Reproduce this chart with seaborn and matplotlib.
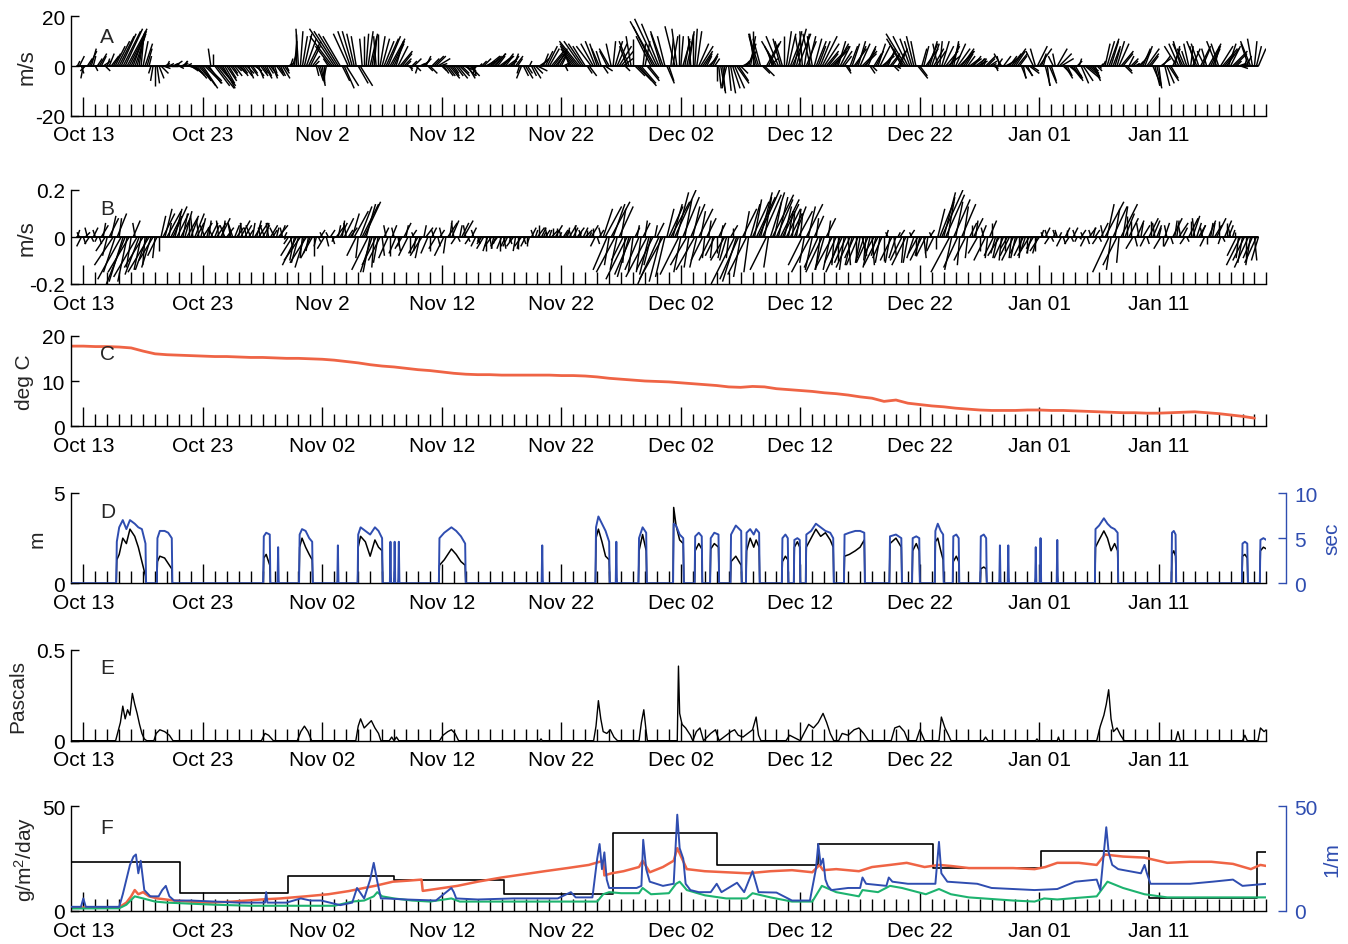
import numpy as np
import matplotlib
matplotlib.use('Agg')
import matplotlib.pyplot as plt
import seaborn as sns
from matplotlib.collections import LineCollection

sns.set_theme(style='white')
plt.rcParams['font.family'] = ['Liberation Sans', 'DejaVu Sans']
plt.rcParams['mathtext.fontset'] = 'custom'
plt.rcParams['mathtext.rm'] = 'Liberation Sans'
plt.rcParams['mathtext.it'] = 'Liberation Sans:italic'

# ---------------- DATA ----------------
# time axis: days since Oct 12 00:00 (Oct 13 = 1)
major_days = [1, 11, 21, 31, 41, 51, 61, 71, 81, 91]
labels_ab = ['Oct 13', 'Oct 23', 'Nov 2', 'Nov 12', 'Nov 22', 'Dec 02', 'Dec 12', 'Dec 22', 'Jan 01', 'Jan 11']
labels_cf = ['Oct 13', 'Oct 23', 'Nov 02', 'Nov 12', 'Nov 22', 'Dec 02', 'Dec 12', 'Dec 22', 'Jan 01', 'Jan 11']

# Panel A: wind (m/s), 6 samples per day starting at day 0.5 (one group of 6 = one day)
wind_u = [
 1,2,1,-1,-2,2, 3,2,1,1,2,3, 2,3,2,1,2,3, 3,4,5,6,6,7, 7,8,7,6,5,4,
 3,2,1,2,3,2, 1,-1,-1,0,1,2, 3,3,2,1,2,3, 2,3,1,2,3,2, 1,2,3,3,4,4,
 4,5,6,6,7,6, 5,-1,0,6,7,6, 6,5,4,4,3,3, 2,3,2,3,3,2, 3,3,2,3,2,3,
 3,2,3,2,3,2, 2,3,2,1,3,2, 2,3,2,1,2,1, 2,1,0,-1,1,2, 3,4,5,4,3,2,
 1,2,2,1,0,-1, -2,-6,-9,-10,-9,-8, -7,3,4,5,-6,-5, -4,-3,-2,4,5,-1, 0,1,2,3,2,1,
 -1,0,2,3,4,5, 5,6,5,4,3,4, 5,4,3,2,2,1, 2,3,2,-1,2,3, 3,2,2,3,3,4,
 4,5,3,2,2,3, 3,4,3,2,3,4, 4,3,5,4,3,4, 2,1,-1,-2,1,2, 3,4,5,4,4,5,
 4,3,4,5,4,3, 4,3,3,2,3,2, -1,-2,2,3,2,1, 2,3,3,4,3,3, 2,3,4,4,5,4,
 5,4,3,2,2,1, 1,-1,-3,-5,-6,-7, -8,-7,-6,-5,2,3, -6,-5,-4,-3,-3,-2, 2,3,-3,-4,-2,1,
 3,4,5,5,4,2, -3,-4,-2,0,4,6, 7,6,1,2,5,4, -6,-8,-10,-9,-7,-4, -5,-3,3,2,1,2,
 -4,-2,0,1,3,2, 3,2,-1,0,1,2, 4,5,4,3,2,3, 3,2,2,0,1,2, 1,-1,-2,1,2,3,
 4,5,4,3,2,2, 4,3,2,0,-2,-3, -4,-3,3,4,5,5, 3,-2,-4,-6,-5,-3, -3,0,2,3,4,4,
 3,4,5,-2,-1,2, 4,3,-3,-2,3,4, 3,4,6,6,5,4, 5,6,6,5,3,4, 4,3,2,1,3,3,
 5,4,3,4,6,5, 4,3,2,2,3,3, 3,4,5,4,4,3, 4,3,2,2,3,3, -5,-7,-8,-6,-4,-3,
 -3,-2,4,3,2,2, 5,4,3,3,4,4, -2,1,3,4,5,5, 4,3,2,4,5,6, 5,4,3,3,4,4,
 3,4,4,2,2,1, 4,3,3,2,2,1, 2,-1,-3,3,4,4, 3,4,5,4,4,3, 2,1,3,2,4,3,
 -3,-2,4,5,2,1, 2,1,3,2,-2,-1, 4,5,5,3,3,2, 5,4,4,3,2,1, 3,4,6,5,4,3,
 3,2,2,1,1,1, 2,3,4,3,3,2, 3,4,5,4,3,2, 2,3,2,2,1,2, 4,3,3,5,4,3,
 3,2,2,1,4,3, 2,3,4,3,3,2, -5,-4,-3,-4,-3,-2, -2,1,3,-2,-4,-3, 4,3,-3,-2,5,4,
 3,2,-4,-3,5,6, 4,5,3,4,6,5, 2,3,3,2,1,2, -3,-4,-2,1,2,3]
wind_v = [
 2,4,-3,-5,-2,3, 6,7,4,-2,3,5, 4,2,-2,3,5,4, 5,8,10,12,13,14, 15,15,14,13,14,12,
 12,13,11,10,9,7, 4,-3,-6,-8,-7,-5, -3,-1,1,2,1,0, 1,2,1,-1,1,2, 2,1,-1,-2,-3,-4,
 -5,-6,-8,-9,-7,-6, -7,7,5,-8,-9,-7, -8,-9,-7,-6,-5,-4, -3,-4,-2,-3,-4,-3, -4,-3,-5,-4,-3,-2,
 -4,-5,-4,-3,-5,-4, -3,-4,-5,-3,-4,-3, -4,-5,-3,-2,1,3, 6,10,13,15,14,12, 13,11,10,8,4,2,
 -4,-6,-8,-7,-6,-5, 3,8,12,15,14,13, 12,-6,-9,-8,13,14, 14,13,12,-7,-8,11, 12,13,14,13,12,11,
 12,13,12,11,10,11, 12,11,10,9,10,8, 6,5,3,2,-1,-2, 2,3,-2,-3,1,2, 3,4,-2,-3,3,4,
 4,3,1,-2,-3,-4, -4,-5,-4,-3,-4,-5, -4,-3,-2,-4,-5,-4, -3,-4,-3,-1,1,2, 3,2,4,3,4,5,
 5,4,3,4,5,4, 3,2,4,5,4,3, -3,-5,-4,-5,-3,2, -4,-5,-3,-2,2,3, 5,6,8,7,6,5,
 6,7,5,4,1,-2, 1,3,5,7,8,9, 10,10,9,8,-3,-4, 8,9,10,9,7,6, -3,-2,6,7,9,10,
 10,9,8,6,3,-2, 8,10,12,11,-4,-6, -8,-7,9,10,-6,-5, 12,16,18,19,17,13, 14,12,-7,-6,11,12,
 16,15,13,12,10,11, 14,13,12,13,15,14, 9,8,6,5,4,3, 5,4,3,-6,-9,-11, -10,-9,-8,-10,-11,-9,
 -9,-7,-6,-3,1,2, 6,9,12,14,13,12, 13,11,-3,-4,9,10, 3,6,8,10,12,11, 10,12,14,13,10,9,
 14,15,13,12,14,13, 10,12,13,12,11,10, 8,10,12,9,6,5, 5,6,8,9,10,8, 6,4,-3,-2,8,9,
 7,8,10,9,6,5, 8,7,-3,-2,5,6, 9,8,4,5,6,7, 5,4,-2,-1,6,7, 9,11,13,12,11,10,
 12,10,-5,-4,7,8, 7,9,10,9,7,6, 9,10,10,8,6,4, 8,9,10,9,7,6, 7,6,5,4,3,3,
 4,3,2,3,3,2, 4,3,2,1,-1,-2, 3,4,5,4,2,3, 4,5,7,6,5,4, -5,-5,-4,-4,-3,-2,
 6,7,8,7,5,4, -8,-8,-7,-6,4,5, 7,5,3,-3,-5,-4, -4,-5,-6,-5,2,3, -7,-6,-5,-4,-3,-2,
 -6,-5,-2,-1,1,2, 9,10,11,10,8,7, 10,9,6,5,-3,-2, 4,3,2,1,1,2, 6,7,8,7,5,4,
 -7,-8,-9,-8,3,4, -8,-7,-6,-5,7,8, 8,9,10,9,7,6, 9,8,7,8,10,9, 8,7,6,7,9,8,
 7,8,10,9,8,7, 5,7,9,8,6,5, 2,1,-1,1,3,4, 9,10,11,10,8,7]

# Panel B: current (cm/s), 6 samples per day starting at day 0.5
cur_u = [
 1,-1,-2,1,2,-1, -2,1,2,-1,-1,1, 3,1,-4,-2,4,2, -8,-5,4,1,-10,-6, -8,-4,-9,-2,3,-1,
 -10,-6,-3,-8,-1,-5, -9,-4,-6,-1,-4,0, 2,5,3,6,1,4, 6,3,5,1,4,2, 3,5,0,3,-1,4,
 3,-1,2,4,-2,1, 1,3,-2,2,4,-1, 4,1,-2,3,1,-1, -2,2,3,1,4,-1, 3,-1,2,-2,1,3,
 2,4,-1,3,-2,1, -1,3,2,-2,1,4, 2,-1,1,-1,-2,1, -5,-2,-6,-3,-7,-1, -4,-7,-1,-3,-5,0,
 -1,1,2,-1,-3,1, -1,2,1,-1,3,1, 3,1,4,-1,2,3, 3,6,-4,-1,5,7, 7,4,-7,-3,-5,-1,
 -6,-2,-5,1,2,-1, -4,0,2,-1,-3,1, -1,-3,3,1,-4,0, 2,-1,-1,-4,-2,-5, 1,3,-3,0,2,-1,
 -3,1,2,-1,-4,-1, 4,1,3,-1,-2,1, 1,3,4,-1,1,-2, 2,-1,-2,1,-1,-2, -3,0,-2,1,-3,-1,
 -1,-3,0,-2,1,-2, -2,1,-1,-3,-1,0, -1,-3,1,-2,0,-1, 2,-1,1,3,0,2, 1,2,-1,1,3,0,
 3,0,1,-1,2,1, 1,3,-1,2,0,3, 1,-1,2,3,0,1, 3,0,-2,1,2,-1, 4,7,-6,-2,8,5,
 -8,-3,6,2,-5,-1, -9,-5,-7,-2,2,1, -6,-2,3,1,-9,-4, -3,-7,1,3,-9,-5, -10,-4,3,6,8,4,
 9,5,-8,-3,7,3, -7,-2,6,3,-8,-3, 6,2,-5,-1,4,1, -5,-1,-4,0,3,1, -2,-6,-3,-1,3,0,
 -10,-6,-8,-3,6,2, -8,-2,4,7,3,8, 9,5,8,3,-7,-2, 6,9,3,7,4,8, 7,3,6,2,5,1,
 5,2,6,1,-6,-2, 7,3,-8,-3,4,1, -6,-2,-7,-4,4,1, -3,-7,-1,-5,0,-4, -7,-2,-5,1,-6,-3,
 -4,0,-5,-2,2,-3, -1,-5,-3,1,-4,-2, -6,-2,-4,0,1,-1, -2,-5,1,-3,1,2, -5,-1,-6,-2,2,-1,
 -3,0,-4,-2,-5,1, -4,-1,2,-1,-3,0, 3,6,9,5,8,3, -8,-3,7,3,-6,-1, 6,2,-5,-1,3,0,
 4,1,-4,0,2,-1, -5,-1,3,0,-4,-2, -2,-5,-1,-4,0,-3, -4,-1,-5,-2,-3,0, -1,-4,-2,0,-5,-2,
 -3,0,-2,-4,1,-1, 2,-1,-2,1,1,-1, -1,1,-2,1,2,0, -2,1,2,-1,-1,1, 2,-1,-2,1,3,-1,
 1,2,-2,1,3,-1, 8,3,-7,-2,6,2, -6,-1,7,2,4,0, 4,0,-3,1,3,-1, 1,3,-2,1,4,0,
 3,-1,2,1,-3,0, 2,-1,-2,1,4,1, 1,4,-1,2,-2,1, 4,0,3,-1,2,3, 2,-1,-2,0,3,1,
 1,3,4,0,-1,1, 3,0,2,-1,1,0, -4,-1,-6,-2,-5,0, -6,-2,-4,1,-5,-3]
cur_v = [
 3,2,-4,-3,2,4, -3,-2,4,3,-2,-3, 5,6,-6,-8,8,9, -12,-15,10,8,-18,-19, -20,-19,-15,-13,7,6,
 -17,-16,-14,-13,-12,-14, -15,-13,-10,-9,-8,-6, 9,10,12,11,6,8, 13,12,10,9,8,10, 11,9,7,8,9,10,
 6,7,8,6,5,4, 7,6,4,5,6,7, 8,7,5,4,3,5, 6,5,4,6,7,6, 5,4,3,5,6,5,
 7,6,4,5,5,6, 6,5,3,4,4,5, 5,4,2,-1,-3,-5, -8,-10,-12,-11,-10,-9, -13,-11,-6,-7,-9,-8,
 -4,-2,3,2,-5,-4, 2,3,-3,-2,4,5, 6,7,8,6,3,4, 10,11,-8,-9,13,14, 15,14,-14,-15,-15,-13,
 -12,-11,-10,-8,4,5, -9,-8,5,4,-7,-6, -4,-5,6,5,-8,-7, 3,2,-6,-7,-9,-8, 5,4,-7,-6,4,3,
 -5,-4,3,4,-8,-7, 6,7,7,6,-3,-2, 5,6,7,5,-2,-3, 4,3,-4,-3,-2,-3, -5,-6,-6,-5,-4,-5,
 -3,-4,-6,-5,-5,-4, -4,-3,-2,-4,-6,-5, -5,-4,-3,-4,-4,-3, 4,3,3,4,5,4, 2,3,4,3,3,4,
 5,4,2,3,3,2, 4,5,3,4,5,4, 2,3,4,3,3,2, 5,4,-4,-3,3,4, 12,13,-14,-12,15,14,
 -15,-14,13,12,-10,-11, -18,-17,-16,-15,4,5, -14,-15,6,7,-17,-16, -12,-14,5,6,-20,-19, -18,-17,12,13,15,14,
 20,19,-16,-15,17,16, -12,-13,14,13,-14,-13, 12,11,-10,-9,8,7, -10,-9,-8,-7,6,5, -9,-10,-10,-9,5,4,
 -20,-19,-18,-17,12,11, -16,-15,14,15,16,17, 20,19,18,17,-14,-13, 19,18,15,16,17,16, 14,13,12,11,10,11,
 13,12,11,10,-12,-11, 14,13,-15,-14,9,8, -13,-14,-15,-14,8,7, -14,-13,-12,-11,-10,-11, -15,-14,-11,-12,-13,-12,
 -9,-10,-12,-11,-8,-9, -10,-11,-13,-12,-7,-8, -12,-11,-9,-10,3,2, -11,-10,-8,-9,2,3, -10,-11,-12,-11,3,2,
 -9,-8,-7,-8,-10,-9, -8,-7,3,2,-6,-5, 12,15,20,19,18,17, -15,-14,16,15,-13,-12, 14,13,-10,-9,6,5,
 8,7,-7,-6,5,4, -10,-9,7,6,-8,-7, -9,-8,-10,-9,-6,-5, -8,-9,-10,-9,-7,-6, -9,-8,-6,-7,-8,-7,
 -5,-6,-7,-6,3,2, 4,3,-3,-2,2,3, 3,2,-4,-3,4,3, -3,-2,4,3,-2,-1, 3,2,-4,-3,4,3,
 4,3,-3,-2,6,5, 15,14,-15,-14,13,12, -12,-11,14,13,10,9, 8,7,-5,-4,7,6, 6,5,-4,-3,8,7,
 7,6,5,4,-5,-4, 6,5,-4,-3,8,7, 7,6,5,4,-3,-2, 8,7,9,8,6,5, 5,4,-4,-3,7,6,
 6,5,8,7,-3,-2, 7,6,5,4,3,2, -8,-9,-12,-11,-10,-9, -13,-12,-9,-10,-11,-10]

# Panel C: temperature (deg C), daily from day 0
temp_c = [17.7, 17.7, 17.6, 17.6, 17.5, 17.3, 16.6, 16.0, 15.8, 15.7,
          15.6, 15.5, 15.4, 15.4, 15.3, 15.2, 15.2, 15.1, 15.0, 15.0,
          14.9, 14.8, 14.6, 14.3, 14.0, 13.6, 13.3, 13.1, 12.8, 12.5,
          12.3, 12.0, 11.7, 11.5, 11.4, 11.4, 11.3, 11.3, 11.3, 11.3,
          11.3, 11.2, 11.2, 11.1, 10.9, 10.6, 10.4, 10.2, 10.0, 9.9,
          9.8, 9.6, 9.4, 9.2, 9.0, 8.7, 8.6, 8.8, 8.7, 8.3,
          8.1, 7.9, 7.7, 7.4, 7.2, 6.9, 6.5, 6.2, 5.5, 5.8,
          5.1, 4.8, 4.5, 4.3, 4.0, 3.8, 3.6, 3.5, 3.5, 3.5,
          3.6, 3.6, 3.5, 3.5, 3.4, 3.3, 3.2, 3.1, 3.0, 3.0,
          2.9, 2.9, 3.0, 3.1, 3.2, 3.0, 2.8, 2.5, 2.2, 1.8]

# Panel D: (day, wave height m, wave period sec)
wave = [
 (0, 0, 0),
 (3.75, 0, 0), (3.8, 1.3, 4.6), (4.0, 1.6, 6.2), (4.3, 2.5, 7.0), (4.6, 2.2, 6.0), (4.9, 3.0, 7.0),
 (5.3, 2.6, 6.6), (5.6, 2.0, 6.2), (5.9, 1.2, 6.0), (6.2, 0.4, 4.4), (6.25, 0, 0),
 (7.15, 0, 0), (7.2, 1.2, 5.0), (7.4, 1.5, 5.8), (7.8, 1.4, 5.8), (8.1, 1.1, 5.6), (8.4, 0.8, 5.0), (8.45, 0, 0),
 (16.05, 0, 0), (16.1, 1.4, 5.2), (16.3, 1.6, 5.6), (16.6, 1.0, 5.4), (16.65, 0, 0),
 (17.25, 0, 0), (17.3, 0.2, 4.0), (17.35, 0, 0),
 (19.05, 0, 0), (19.1, 2.0, 5.4), (19.3, 2.5, 6.0), (19.6, 2.0, 5.8), (19.9, 1.6, 5.0), (20.15, 1.3, 4.6), (20.2, 0, 0),
 (22.25, 0, 0), (22.3, 0.2, 4.2), (22.35, 0, 0),
 (23.95, 0, 0), (24.0, 2.0, 5.4), (24.2, 2.6, 6.2), (24.6, 2.3, 5.8), (25.0, 1.5, 5.4), (25.4, 2.4, 6.2),
 (25.7, 2.0, 5.8), (26.0, 1.8, 5.0), (26.05, 0, 0),
 (26.65, 0, 0), (26.7, 0.3, 4.6), (26.75, 0, 0), (27.0, 0, 0), (27.05, 0.3, 4.6), (27.1, 0, 0),
 (27.35, 0, 0), (27.4, 0.3, 4.6), (27.45, 0, 0),
 (30.75, 0, 0), (30.8, 1.0, 5.0), (31.2, 1.3, 5.6), (31.8, 1.9, 6.2), (32.2, 1.6, 5.8), (32.6, 1.2, 5.2),
 (32.95, 1.0, 4.4), (33.0, 0, 0),
 (39.35, 0, 0), (39.4, 0.2, 4.2), (39.45, 0, 0),
 (43.85, 0, 0), (43.9, 2.5, 6.2), (44.1, 3.0, 7.4), (44.4, 2.3, 6.6), (44.7, 1.5, 5.8), (45.0, 1.3, 4.6), (45.05, 0, 0),
 (45.55, 0, 0), (45.6, 0.3, 4.6), (45.65, 0, 0),
 (47.45, 0, 0), (47.5, 1.8, 5.0), (47.8, 2.7, 6.2), (48.1, 1.8, 5.6), (48.15, 0, 0),
 (50.35, 0, 0), (50.4, 4.2, 6.6), (50.6, 3.2, 6.4), (50.9, 2.4, 5.4), (51.2, 2.2, 5.0), (51.25, 0, 0),
 (52.15, 0, 0), (52.2, 1.8, 5.2), (52.5, 2.2, 5.6), (52.75, 1.9, 5.2), (52.8, 0, 0),
 (53.45, 0, 0), (53.5, 1.9, 5.0), (53.8, 2.2, 5.6), (54.15, 2.0, 5.4), (54.2, 0, 0),
 (55.15, 0, 0), (55.2, 1.2, 5.4), (55.6, 1.5, 6.4), (56.05, 1.0, 5.8), (56.1, 0, 0),
 (56.45, 0, 0), (56.5, 1.8, 5.6), (56.8, 2.5, 6.0), (57.1, 2.0, 5.4), (57.3, 2.4, 6.0), (57.55, 2.0, 5.6), (57.6, 0, 0),
 (59.45, 0, 0), (59.5, 1.2, 5.0), (59.75, 1.5, 5.4), (59.95, 1.3, 5.0), (60.0, 0, 0),
 (60.45, 0, 0), (60.5, 2.0, 4.8), (60.75, 2.3, 5.0), (60.95, 2.0, 4.8), (61.0, 0, 0),
 (61.45, 0, 0), (61.5, 2.0, 5.4), (61.9, 2.5, 5.8), (62.3, 3.0, 6.6), (62.7, 2.6, 6.2), (63.1, 2.8, 5.8),
 (63.5, 2.4, 5.6), (63.75, 2.0, 5.0), (63.8, 0, 0),
 (64.65, 0, 0), (64.7, 1.5, 5.4), (65.1, 1.6, 5.6), (65.6, 1.8, 5.8), (66.0, 2.0, 5.8), (66.35, 2.4, 5.6), (66.4, 0, 0),
 (68.45, 0, 0), (68.5, 2.2, 5.2), (69.0, 2.5, 5.4), (69.45, 2.0, 5.0), (69.5, 0, 0),
 (70.35, 0, 0), (70.4, 1.8, 5.0), (70.7, 2.2, 5.2), (70.95, 1.8, 5.0), (71.0, 0, 0),
 (72.25, 0, 0), (72.3, 2.3, 5.8), (72.5, 2.5, 6.6), (72.75, 1.8, 5.8), (72.95, 1.3, 5.4), (73.0, 0, 0),
 (73.75, 0, 0), (73.8, 1.2, 5.2), (74.05, 1.5, 5.4), (74.25, 1.2, 5.0), (74.3, 0, 0),
 (76.05, 0, 0), (76.1, 0.8, 5.2), (76.35, 0.9, 5.4), (76.55, 0.8, 5.0), (76.6, 0, 0),
 (77.65, 0, 0), (77.7, 0.3, 4.2), (77.75, 0, 0), (78.35, 0, 0), (78.4, 0.3, 4.2), (78.45, 0, 0),
 (80.65, 0, 0), (80.7, 0.3, 4.0), (80.75, 0, 0), (81.05, 0, 0), (81.1, 0.4, 5.0), (81.15, 0, 0),
 (82.45, 0, 0), (82.5, 0.4, 4.8), (82.55, 0, 0),
 (85.65, 0, 0), (85.7, 2.0, 6.0), (86.0, 2.4, 6.4), (86.4, 2.9, 7.2), (86.7, 2.5, 6.6), (87.0, 1.8, 6.2),
 (87.3, 2.2, 6.0), (87.55, 1.8, 5.6), (87.6, 0, 0),
 (92.05, 0, 0), (92.1, 1.6, 5.6), (92.25, 1.8, 5.8), (92.4, 1.5, 5.4), (92.45, 0, 0),
 (97.95, 0, 0), (98.0, 1.5, 4.4), (98.2, 1.6, 4.6), (98.4, 1.4, 4.4), (98.45, 0, 0),
 (99.45, 0, 0), (99.5, 1.8, 4.8), (99.75, 2.0, 5.0), (100.0, 1.9, 4.8)]

# Panel E: bottom stress (Pa)
stress = [
 (0, 0), (3.7, 0), (3.9, 0.05), (4.1, 0.10), (4.3, 0.19), (4.5, 0.12), (4.7, 0.17), (4.9, 0.14), (5.1, 0.26),
 (5.3, 0.20), (5.5, 0.15), (5.7, 0.09), (5.9, 0.04), (6.1, 0.01), (6.3, 0),
 (6.9, 0), (7.1, 0.04), (7.4, 0.06), (7.8, 0.05), (8.2, 0.03), (8.5, 0),
 (15.9, 0), (16.2, 0.04), (16.5, 0.03), (16.9, 0),
 (18.9, 0), (19.2, 0.05), (19.5, 0.08), (19.8, 0.05), (20.1, 0),
 (23.8, 0), (24.0, 0.08), (24.2, 0.12), (24.5, 0.07), (24.8, 0.09), (25.1, 0.11), (25.4, 0.07), (25.7, 0.04), (25.9, 0),
 (26.6, 0), (26.8, 0.02), (27.0, 0), (27.2, 0.02), (27.4, 0),
 (30.8, 0), (31.1, 0.03), (31.5, 0.05), (31.8, 0.06), (32.1, 0.04), (32.4, 0),
 (39.2, 0), (39.3, 0.01), (39.4, 0),
 (43.7, 0), (43.9, 0.08), (44.1, 0.22), (44.3, 0.12), (44.5, 0.05), (44.8, 0.04), (45.1, 0.06), (45.4, 0.02), (45.7, 0),
 (47.5, 0), (47.7, 0.10), (47.9, 0.17), (48.1, 0.05), (48.2, 0),
 (50.7, 0), (50.8, 0.41), (50.9, 0.15), (51.1, 0.09), (51.4, 0.07), (51.8, 0.03), (52.0, 0),
 (52.3, 0.05), (52.6, 0.07), (52.9, 0), (53.5, 0.04), (53.9, 0.06), (54.2, 0), (55.2, 0.05), (55.5, 0.06),
 (55.8, 0.03), (56.2, 0.02), (56.6, 0.04), (57.0, 0.06), (57.3, 0.13), (57.5, 0.03), (57.7, 0),
 (59.8, 0), (60.1, 0.03), (60.4, 0.02), (60.7, 0.01), (61.0, 0),
 (61.3, 0.04), (61.7, 0.09), (62.1, 0.07), (62.5, 0.10), (62.9, 0.15), (63.2, 0.10), (63.5, 0.04), (63.8, 0),
 (64.2, 0), (64.5, 0.04), (65.0, 0.03), (65.5, 0.06), (65.9, 0.07), (66.3, 0.04), (66.7, 0),
 (68.6, 0), (68.9, 0.07), (69.3, 0.08), (69.7, 0.05), (70.0, 0),
 (70.7, 0), (71.0, 0.06), (71.4, 0),
 (72.6, 0), (72.8, 0.13), (73.1, 0.07), (73.4, 0.03), (73.6, 0),
 (76.3, 0), (76.5, 0.02), (76.7, 0), (80.7, 0), (80.8, 0.01), (80.9, 0), (82.5, 0), (82.6, 0.02), (82.7, 0),
 (85.8, 0), (86.1, 0.08), (86.4, 0.14), (86.6, 0.20), (86.8, 0.28), (87.0, 0.12), (87.2, 0.05), (87.5, 0.07),
 (87.8, 0.03), (88.1, 0),
 (92.4, 0), (92.6, 0.05), (92.8, 0),
 (98.0, 0), (98.2, 0.03), (98.4, 0), (99.3, 0), (99.5, 0.07), (99.8, 0.05), (100.0, 0.06)]

# Panel F: sediment trap flux (step), and three continuous series
trap_t = [0, 9.06, 18.1, 27.0, 36.2, 45.3, 54.0, 62.5, 72.1, 81.1, 90.2, 99.2, 100.0]
trap_v = [23.2, 8.6, 16.6, 15.0, 8.0, 37.1, 21.9, 32.0, 20.3, 28.8, 6.4, 28.0, 28.0]

flux_red = [
 (0, 1.6), (2, 1.7), (4.0, 1.8), (4.6, 4), (5.0, 7), (5.3, 10), (5.6, 8), (6.0, 9), (6.5, 7), (7.2, 6),
 (8.6, 5), (10, 4.5), (11.5, 4), (13.5, 4.5), (15.9, 5.5), (17.5, 6), (19.6, 7), (21.5, 8), (23.2, 9.5),
 (24.5, 11), (25.4, 12), (26.9, 14), (28.2, 14.5), (29.3, 15.0), (29.4, 9.6), (30.5, 10.5), (32.3, 12),
 (34, 14), (36, 16), (37.8, 17.5), (39.6, 19), (41.5, 20.5), (43.3, 22), (44.5, 24), (44.6, 17), (45.2, 18),
 (46.2, 19), (47.5, 21), (47.8, 24), (48.4, 18.5), (49.5, 21), (50.4, 24), (50.7, 30), (51.5, 20), (53, 19),
 (54.8, 18.5), (56.6, 18), (58.5, 19), (60.3, 19.5), (62, 18.5), (62.6, 22), (62.9, 19.5), (64, 20),
 (65.9, 19), (67, 21), (68.5, 22), (69.9, 23), (71.4, 21), (72.6, 22), (73.6, 21.5), (75.1, 20.5),
 (76.9, 20.5), (78.8, 20.5), (80.6, 20), (81.5, 21), (82.5, 23), (84.3, 23), (85.8, 22), (86.5, 27),
 (87.2, 26.5), (88, 26), (89.8, 25.5), (91.7, 23), (93.6, 23.5), (95.4, 23.5), (97.2, 22.5), (98.7, 20),
 (99.5, 22), (100, 21.5)]

atten_blue = [
 (0, 2), (0.8, 2), (1.0, 6), (1.2, 2), (4.0, 2), (4.3, 8), (4.6, 15), (4.9, 22), (5.2, 26), (5.4, 27),
 (5.6, 18), (5.8, 24), (6.1, 10), (6.6, 7), (7.3, 7), (7.6, 10), (7.9, 12), (8.2, 7), (8.6, 5), (10, 5),
 (12, 4.5), (14, 4), (16.2, 4), (16.3, 9), (16.4, 4), (18, 4), (19.2, 6), (20, 5), (20.9, 5), (22.5, 2.8),
 (23.5, 4), (23.9, 11), (24.5, 6), (25.0, 15), (25.3, 23), (25.6, 14), (25.9, 6), (26.3, 6), (28, 5.5),
 (30.5, 5), (31.8, 11), (32.0, 9), (32.2, 6), (34, 5.5), (37, 6), (40.7, 6), (41.8, 9), (42.2, 6.5),
 (43.6, 6.5), (44.0, 25), (44.2, 32), (44.4, 20), (44.6, 28), (44.8, 15), (45.0, 11), (45.3, 11),
 (47.3, 11), (47.7, 12), (47.85, 34), (48.1, 20), (48.4, 14), (49.5, 12), (50.4, 13), (50.7, 46),
 (50.9, 30), (51.2, 25), (51.4, 13), (51.8, 10), (52.5, 9), (53.5, 9), (54.0, 13), (54.4, 9), (55.7, 13.5),
 (56.3, 9), (57.0, 19), (57.5, 9), (59, 8.8), (60.3, 5), (61.8, 5), (62.3, 20), (62.5, 32), (62.7, 22),
 (62.9, 25), (63.1, 15), (63.3, 12), (63.6, 10), (65, 11), (66.0, 11), (66.2, 16), (66.5, 13), (68.2, 12),
 (68.4, 16), (68.7, 14), (70, 13), (72.3, 13), (72.6, 33), (72.8, 18), (73.3, 14), (75.8, 13), (77, 11),
 (80.6, 10), (82.5, 10.5), (84, 14), (85.8, 15), (86.1, 10), (86.6, 40), (86.8, 28), (87.1, 22), (87.6, 20),
 (89.5, 18), (89.8, 22), (90.0, 18), (90.3, 13), (93.6, 13), (95.5, 14), (97.2, 15), (98, 12), (100, 13)]

flux_green = [
 (0, 1.2), (4.0, 1.3), (4.6, 3), (5.3, 7), (6, 6), (7, 4.5), (8, 4), (10, 3.5), (12, 3), (15, 2.5),
 (18, 2.5), (22, 2.5), (23.5, 4.5), (24.5, 5), (25.3, 7), (25.6, 9), (26, 7), (27, 6), (28.5, 5), (30, 4.5),
 (31.8, 6), (32.5, 4.5), (35, 4.5), (40, 4.5), (44, 4.5), (44.5, 8), (45, 9), (46, 8.5), (47.5, 8.5),
 (47.8, 11), (48.5, 8), (50, 8.5), (50.6, 13), (50.9, 14), (51.5, 10), (53, 7.5), (54.8, 6), (56.5, 6),
 (57, 8.5), (58.5, 6.5), (60.3, 4.5), (62, 4.5), (62.8, 12), (64, 9), (65.9, 7), (66.2, 10), (67.5, 9),
 (68.5, 12), (69.5, 11), (71.5, 8), (72.6, 10.5), (73.6, 8), (75.1, 6.5), (78.8, 5), (80.6, 4.5),
 (81.4, 6), (82.5, 5.5), (85.8, 7), (86.7, 14), (88, 11), (89.8, 8), (91.7, 6.5), (100, 6.5)]

# ---------------- STYLE ----------------
RED = '#ef6445'
BLUE = '#2f4db0'
GREEN = '#1db36f'

W, H = 1348, 945
fig = plt.figure(figsize=(W / 100, H / 100), dpi=100)
fig.patch.set_facecolor('white')
LEFT_PX, RIGHT_PX = 71.4, 1266.4
X0, X1 = 0, 100
pos = {'A': (17.3, 116.7), 'B': (191, 285), 'C': (336.7, 427.3),
       'D': (494, 584.3), 'E': (650.7, 741.7), 'F': (807.3, 912)}
minor_days = [d for d in range(1, 101) if d not in major_days]
FS = 15


def make_ax(key):
    top, bot = pos[key]
    ax = fig.add_axes([LEFT_PX / W, 1 - bot / H, (RIGHT_PX - LEFT_PX) / W, (bot - top) / H])
    ax.set_facecolor('none')
    return ax


def style(ax, key, labels, ylim, yticks, yticklabels, ylabel, ylab_x, ylab_fs=15):
    ax.set_xlim(X0, X1)
    ax.set_ylim(*ylim)
    for s in ['top', 'right']:
        ax.spines[s].set_visible(False)
    for s in ['left', 'bottom']:
        ax.spines[s].set_visible(True)
        ax.spines[s].set_linewidth(1.0)
        ax.spines[s].set_color('black')
    ax.set_xticks(major_days)
    ax.set_xticklabels(labels)
    ax.set_xticks(minor_days, minor=True)
    ax.tick_params(axis='x', which='major', direction='in', length=14, width=1.0, pad=7,
                   labelsize=FS, bottom=True, colors='black')
    ax.tick_params(axis='x', which='minor', direction='in', length=8.6, width=1.0, bottom=True, colors='black')
    ax.set_yticks(yticks)
    ax.set_yticklabels(yticklabels)
    ax.tick_params(axis='y', which='major', direction='in', length=5.5, width=1.0, pad=4.5,
                   labelsize=FS, left=True, colors='black')
    ax.set_xlabel('')
    ax.set_ylabel('')
    ax.grid(False)
    ax.text(0.024, 0.8, key, transform=ax.transAxes, fontsize=FS, ha='left', va='center')
    ax.text(ylab_x, 0.5, ylabel, transform=ax.transAxes, rotation=90, ha='center', va='center',
            fontsize=ylab_fs)


def sticks(ax, key, u, v, ylim):
    top, bot = pos[key]
    px_y = (bot - top) / (ylim[1] - ylim[0])
    px_x = (RIGHT_PX - LEFT_PX) / (X1 - X0)
    k = px_y / px_x
    t = 0.5 + np.arange(len(v)) / 6.0
    segs = [[(ti, 0.0), (ti + k * ui, vi)] for ti, ui, vi in zip(t, u, v)]
    ax.add_collection(LineCollection(segs, colors='black', linewidths=1.05))
    sns.lineplot(x=[t[0], t[-1]], y=[0, 0], ax=ax, color='black', linewidth=1.4, estimator=None)


def right_axis(ax, key, ylim, ticks, ylabel):
    ax2 = ax.twinx()
    ax2.set_facecolor('none')
    ax2.set_ylim(*ylim)
    for s in ['top', 'left', 'bottom']:
        ax2.spines[s].set_visible(False)
    ax2.spines['right'].set_visible(True)
    ax2.spines['right'].set_position(('axes', (1286 - LEFT_PX) / (RIGHT_PX - LEFT_PX)))
    ax2.spines['right'].set_color(BLUE)
    ax2.spines['right'].set_linewidth(1.0)
    ax2.set_yticks(ticks)
    ax2.set_yticklabels([str(v) for v in ticks])
    ax2.tick_params(axis='y', direction='in', length=5.5, width=1.0, pad=6, labelsize=FS,
                    right=True, colors=BLUE, labelcolor=BLUE)
    ax2.grid(False)
    ax2.set_ylabel('')
    ax2.text((1332 - LEFT_PX) / (RIGHT_PX - LEFT_PX), 0.5, ylabel, transform=ax2.transAxes,
             rotation=90, ha='center', va='center', fontsize=15, color=BLUE)
    return ax2


# A: wind sticks
axA = make_ax('A')
sticks(axA, 'A', wind_u, wind_v, (-20, 20))
style(axA, 'A', labels_ab, (-20, 20), [-20, 0, 20], ['-20', '0', '20'], 'm/s', -0.037, 16)

# B: current sticks (cm/s -> m/s)
axB = make_ax('B')
sticks(axB, 'B', np.array(cur_u) / 100.0, np.array(cur_v) / 100.0, (-0.2, 0.2))
style(axB, 'B', labels_ab, (-0.2, 0.2), [-0.2, 0, 0.2], ['-0.2', '0', '0.2'], 'm/s', -0.037, 16)

# C: temperature
axC = make_ax('C')
sns.lineplot(x=np.arange(len(temp_c)), y=temp_c, ax=axC, color=RED, linewidth=2.0, estimator=None)
style(axC, 'C', labels_cf, (0, 20), [0, 10, 20], ['0', '10', '20'], 'deg C', -0.039)

# D: wave height and period
axD = make_ax('D')
d_t = [w[0] for w in wave]
d_h = [w[1] for w in wave]
d_p = [w[2] for w in wave]
sns.lineplot(x=d_t, y=d_h, ax=axD, color='black', linewidth=1.1, estimator=None)
style(axD, 'D', labels_cf, (0, 5), [0, 5], ['0', '5'], 'm', -0.029)
axD2 = right_axis(axD, 'D', (0, 10), [0, 5, 10], 'sec')
sns.lineplot(x=d_t, y=d_p, ax=axD2, color=BLUE, linewidth=1.4, estimator=None)
axD2.set_ylabel('')
axD2.set_ylim(0, 10)

# E: stress
axE = make_ax('E')
sns.lineplot(x=[s[0] for s in stress], y=[s[1] for s in stress], ax=axE, color='black',
             linewidth=1.0, estimator=None)
style(axE, 'E', labels_cf, (0, 0.5), [0, 0.5], ['0', '0.5'], 'Pascals', -0.045)

# F: fluxes
axF = make_ax('F')
sns.lineplot(x=trap_t, y=trap_v, ax=axF, color='black', linewidth=1.2, estimator=None,
             drawstyle='steps-post')
sns.lineplot(x=[p[0] for p in flux_red], y=[p[1] for p in flux_red], ax=axF, color=RED,
             linewidth=1.8, estimator=None)
sns.lineplot(x=[p[0] for p in flux_green], y=[p[1] for p in flux_green], ax=axF, color=GREEN,
             linewidth=1.5, estimator=None)
style(axF, 'F', labels_cf, (0, 50), [0, 50], ['0', '50'], 'g/m$^2$/day', -0.039)
axF2 = right_axis(axF, 'F', (0, 50), [0, 50], '1/m')
sns.lineplot(x=[p[0] for p in atten_blue], y=[p[1] for p in atten_blue], ax=axF2, color=BLUE,
             linewidth=1.4, estimator=None)
axF2.set_ylabel('')
axF2.set_ylim(0, 50)

fig.savefig('out.png', dpi=100, facecolor='white')
